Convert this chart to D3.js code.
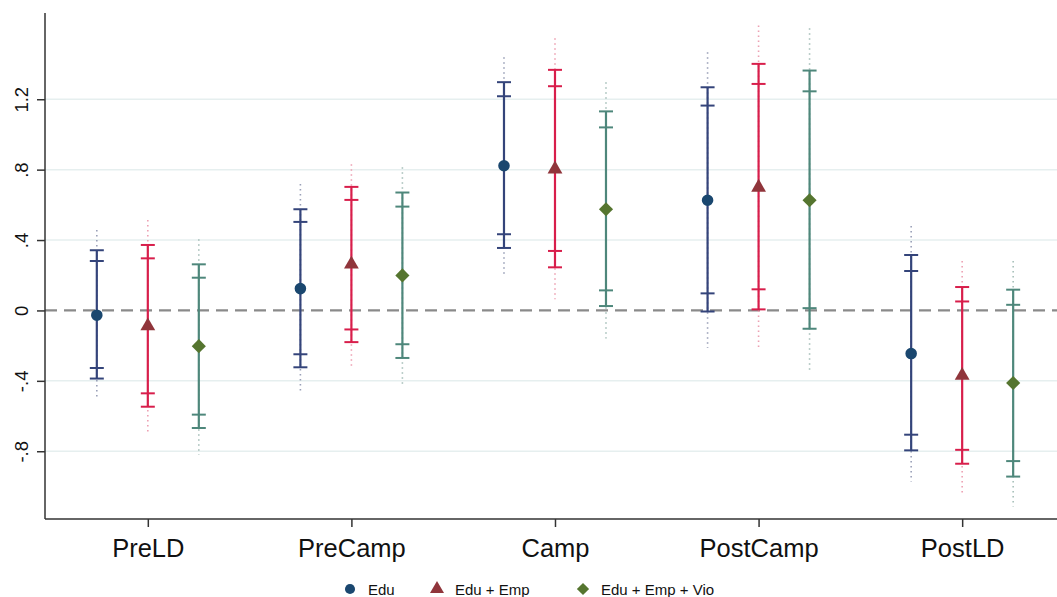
<!DOCTYPE html>
<html>
<head>
<meta charset="utf-8">
<script src="https://cdn.jsdelivr.net/npm/d3@7"></script>
<style>
  body { margin: 0; background: #fff; }
  svg { display: block; font-family: "Liberation Sans", Arial, sans-serif; }
</style>
</head>
<body>
<div id="chart"></div>
<script>
// categories and series
const categories = ['PreLD', 'PreCamp', 'Camp', 'PostCamp', 'PostLD'];
const seriesNames = ['Edu', 'Edu + Emp', 'Edu + Emp + Vio'];
const yTicks = [-0.8, -0.4, 0, 0.4, 0.8, 1.2];
const yTickLabels = ['-.8', '-.4', '0', '.4', '.8', '1.2'];

// point estimates
const eduEst = [-0.027, 0.124, 0.822, 0.626, -0.245];
const empEst = [-0.088, 0.262, 0.803, 0.699, -0.370];
const vioEst = [-0.203, 0.199, 0.575, 0.626, -0.412];

// inner interval (90%)
const eduLo90 = [-0.327, -0.249, 0.433, 0.097, -0.706];
const eduHi90 = [0.281, 0.503, 1.217, 1.164, 0.224];
const empLo90 = [-0.471, -0.108, 0.338, 0.120, -0.792];
const empHi90 = [0.296, 0.628, 1.274, 1.287, 0.051];
const vioLo90 = [-0.592, -0.192, 0.114, 0.013, -0.856];
const vioHi90 = [0.186, 0.590, 1.040, 1.245, 0.032];

// outer interval (95%)
const eduLo95 = [-0.387, -0.323, 0.355, -0.006, -0.795];
const eduHi95 = [0.342, 0.575, 1.297, 1.268, 0.315];
const empLo95 = [-0.547, -0.180, 0.245, 0.006, -0.871];
const empHi95 = [0.372, 0.702, 1.367, 1.401, 0.133];
const vioLo95 = [-0.668, -0.270, 0.025, -0.104, -0.944];
const vioHi95 = [0.262, 0.670, 1.131, 1.363, 0.118];

// dotted extension (99%)
const eduLo99 = [-0.507, -0.469, 0.205, -0.213, -0.972];
const eduHi99 = [0.457, 0.718, 1.439, 1.467, 0.480];
const empLo99 = [-0.697, -0.327, 0.063, -0.226, -1.038];
const empHi99 = [0.514, 0.831, 1.547, 1.619, 0.281];
const vioLo99 = [-0.820, -0.421, -0.160, -0.340, -1.114];
const vioHi99 = [0.404, 0.813, 1.297, 1.604, 0.281];

const series = [
  { name: seriesNames[0], est: eduEst, lo90: eduLo90, hi90: eduHi90, lo95: eduLo95, hi95: eduHi95, lo99: eduLo99, hi99: eduHi99,
    line: '#34447a', dot: '#9aa0b8', marker: '#1a476f', shape: 'circle', offset: -1 },
  { name: seriesNames[1], est: empEst, lo90: empLo90, hi90: empHi90, lo95: empLo95, hi95: empHi95, lo99: empLo99, hi99: empHi99,
    line: '#d81e4b', dot: '#eda0b2', marker: '#90353b', shape: 'triangle', offset: 0 },
  { name: seriesNames[2], est: vioEst, lo90: vioLo90, hi90: vioHi90, lo95: vioLo95, hi95: vioHi95, lo99: vioLo99, hi99: vioHi99,
    line: '#4e877b', dot: '#a6bfb9', marker: '#55752f', shape: 'diamond', offset: 1 }
];

const W = 1057, H = 597;
const margin = { top: 13, right: 2, bottom: 78, left: 45 };

const svg = d3.select('#chart').append('svg')
  .attr('width', W)
  .attr('height', H);

const x = d3.scaleLinear().domain([-0.505, 4.456]).range([margin.left, W - margin.right]);
const y = d3.scaleLinear().domain([-1.185, 1.69]).range([H - margin.bottom, margin.top]);
const dodge = 51;

// gridlines
svg.append('g')
  .selectAll('line')
  .data(yTicks.filter(d => d !== 0))
  .join('line')
  .attr('x1', margin.left).attr('x2', W)
  .attr('y1', d => y(d)).attr('y2', d => y(d))
  .attr('stroke', '#e6efef')
  .attr('stroke-width', 1.5);

// zero line
svg.append('line')
  .attr('x1', margin.left).attr('x2', W)
  .attr('y1', y(0)).attr('y2', y(0))
  .attr('stroke', '#8a8a8a')
  .attr('stroke-width', 2.2)
  .attr('stroke-dasharray', '12,7');

// y axis
const yAxis = svg.append('g')
  .attr('transform', `translate(${margin.left},0)`)
  .call(d3.axisLeft(y).tickValues(yTicks).tickSize(8).tickFormat((d, i) => yTickLabels[i]));
yAxis.select('.domain').attr('d', `M-0,${margin.top}V${y.range()[0]}`).attr('stroke', '#333').attr('stroke-width', 1.5);
yAxis.selectAll('.tick line').attr('stroke', '#333').attr('stroke-width', 1.5);
yAxis.selectAll('.tick text')
  .attr('font-size', 18.5)
  .attr('fill', '#111')
  .attr('transform', 'rotate(-90)')
  .attr('x', 0)
  .attr('y', -17)
  .attr('text-anchor', 'middle')
  .attr('dy', 0);

// x axis
const xAxis = svg.append('g')
  .attr('transform', `translate(0,${y.range()[0]})`)
  .call(d3.axisBottom(x).tickValues(d3.range(categories.length)).tickSize(8).tickFormat((d, i) => categories[i]));
xAxis.select('.domain').attr('d', `M${margin.left},0H${W}`).attr('stroke', '#333').attr('stroke-width', 1.5);
xAxis.selectAll('.tick line').attr('stroke', '#333').attr('stroke-width', 1.5);
xAxis.selectAll('.tick text')
  .attr('font-size', 25.5)
  .attr('fill', '#111')
  .attr('y', 38)
  .attr('dy', 0);

const capW = 7;

series.forEach(s => {
  const g = svg.append('g');
  const cx = i => x(i) + s.offset * dodge;
  const idx = d3.range(categories.length);

  // dotted extension
  g.selectAll('.dot99')
    .data(idx)
    .join('line')
    .attr('x1', cx).attr('x2', cx)
    .attr('y1', i => y(s.hi99[i])).attr('y2', i => y(s.lo99[i]))
    .attr('stroke', s.dot)
    .attr('stroke-width', 1.6)
    .attr('stroke-dasharray', '1.5,3.5');

  // solid interval
  g.selectAll('.ci')
    .data(idx)
    .join('line')
    .attr('x1', cx).attr('x2', cx)
    .attr('y1', i => y(s.hi95[i])).attr('y2', i => y(s.lo95[i]))
    .attr('stroke', s.line)
    .attr('stroke-width', 2.2);

  // caps
  ['lo90', 'hi90', 'lo95', 'hi95'].forEach(k => {
    g.selectAll('.cap-' + k)
      .data(idx)
      .join('line')
      .attr('x1', i => cx(i) - capW).attr('x2', i => cx(i) + capW)
      .attr('y1', i => y(s[k][i])).attr('y2', i => y(s[k][i]))
      .attr('stroke', s.line)
      .attr('stroke-width', 2);
  });

  // markers
  const sym = s.shape === 'circle' ? d3.symbol(d3.symbolCircle, 105)
    : s.shape === 'triangle' ? d3.symbol(d3.symbolTriangle, 95)
    : d3.symbol(d3.symbolSquare, 100);
  g.selectAll('.mk')
    .data(idx)
    .join('path')
    .attr('d', sym)
    .attr('transform', i => `translate(${cx(i)},${y(s.est[i])})` + (s.shape === 'diamond' ? ' rotate(45)' : ''))
    .attr('fill', s.marker);
});

// legend
const legendX = [350, 437, 583];
const legend = svg.append('g');
series.forEach((s, i) => {
  const sym = s.shape === 'circle' ? d3.symbol(d3.symbolCircle, 80)
    : s.shape === 'triangle' ? d3.symbol(d3.symbolTriangle, 85)
    : d3.symbol(d3.symbolSquare, 75);
  legend.append('path')
    .attr('d', sym)
    .attr('transform', `translate(${legendX[i]},589)` + (s.shape === 'diamond' ? ' rotate(45)' : ''))
    .attr('fill', s.marker);
  legend.append('text')
    .attr('x', legendX[i] + 18)
    .attr('y', 594.5)
    .attr('font-size', 15)
    .attr('fill', '#111')
    .text(s.name);
});
</script>
</body>
</html>
